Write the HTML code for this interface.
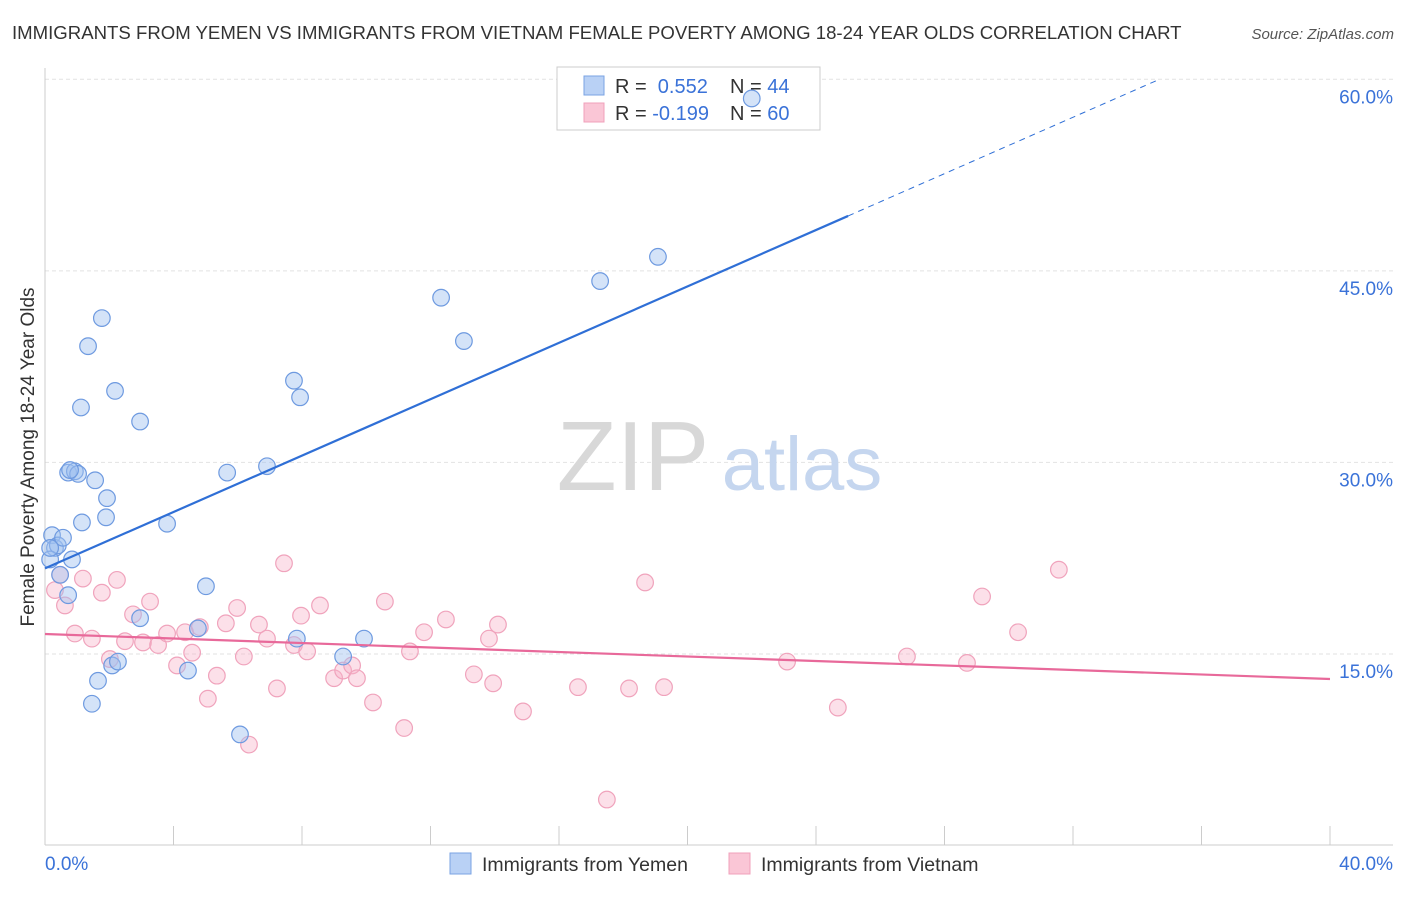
<!DOCTYPE html>
<html><head><meta charset="utf-8"><style>
body{margin:0;background:#fff;font-family:"Liberation Sans",sans-serif;}
svg text{font-family:"Liberation Sans",sans-serif;}
</style></head><body>
<svg id="chart" width="1406" height="892" xmlns="http://www.w3.org/2000/svg">
<text x="12" y="39" font-size="18.6" fill="#333">IMMIGRANTS FROM YEMEN VS IMMIGRANTS FROM VIETNAM FEMALE POVERTY AMONG 18-24 YEAR OLDS CORRELATION CHART</text>
<text x="1394" y="39" font-size="15" fill="#555" font-style="italic" text-anchor="end">Source: ZipAtlas.com</text>
<g id="grid"></g>
<g id="watermark">
<text x="633" y="490" font-size="98" fill="#d8d8d8" font-family="Liberation Serif" text-anchor="middle">ZIP</text>
<text x="802" y="490" font-size="76" fill="#c5d6ef" text-anchor="middle">atlas</text>
</g>
<g id="axes"></g>
<g>
<rect x="557" y="67" width="263" height="63" fill="#fff" stroke="#ccc"/>
<rect x="584" y="76" width="20" height="19" fill="#b9d1f5" stroke="#7aa3e3"/>
<rect x="584" y="103" width="20" height="19" fill="#fac6d6" stroke="#f0a0bb"/>
<text x="615" y="93" font-size="20" fill="#333">R = <tspan fill="#3a72d8">&#160;0.552</tspan><tspan x="730">N = </tspan><tspan fill="#3a72d8">44</tspan></text>
<text x="615" y="120" font-size="20" fill="#333">R = <tspan fill="#3a72d8">-0.199</tspan><tspan x="730">N = </tspan><tspan fill="#3a72d8">60</tspan></text>
</g>
<g id="pinkpts"></g>
<g id="bluepts"></g>
<g id="lines"></g>
<g>
<rect x="450" y="853" width="21" height="21" fill="#b9d1f5" stroke="#7aa3e3"/>
<text x="482" y="871" font-size="19.5" fill="#333">Immigrants from Yemen</text>
<rect x="729" y="853" width="21" height="21" fill="#fac6d6" stroke="#f0a0bb"/>
<text x="761" y="871" font-size="19.5" fill="#333">Immigrants from Vietnam</text>
</g>
</svg>
<script>
const yTicks=[15,30,45,60];
const yTickLabels=["15.0%","30.0%","45.0%","60.0%"];
const xTicks=[0,4,8,12,16,20,24,28,32,36,40];
const yemenX=[0.22,0.31,0.40,0.56,0.16,0.47,0.72,0.84,0.72,0.93,1.03,1.15,1.56,1.34,1.77,1.12,2.18,1.93,1.90,2.96,3.80,5.67,6.91,5.01,2.96,4.76,4.45,6.07,1.65,1.46,2.09,2.27,7.75,7.94,7.84,9.28,9.93,12.33,13.04,17.28,19.08,22.0,0.16,0.78];
const yemenY=[24.3,23.3,23.5,24.1,22.4,21.2,19.6,22.4,29.2,29.3,29.1,25.3,28.6,39.1,41.3,34.3,35.6,27.2,25.7,33.2,25.2,29.2,29.7,20.3,17.8,17.0,13.7,8.7,12.9,11.1,14.1,14.4,36.4,35.1,16.2,14.8,16.2,42.9,39.5,44.2,46.1,58.5,23.3,29.4];
const vietX=[0.31,0.47,0.62,0.93,1.18,1.46,1.77,2.24,2.02,2.49,2.74,3.05,3.27,3.52,3.80,4.11,4.58,4.36,4.82,5.07,5.35,5.63,5.98,6.19,6.35,6.66,6.91,7.22,7.44,7.75,7.97,8.16,8.56,9.00,9.28,9.56,9.71,10.21,10.58,11.18,11.36,11.80,12.48,13.35,13.82,13.95,14.10,14.88,16.59,17.49,18.18,18.68,19.27,23.10,24.68,26.83,28.70,29.17,30.29,31.56];
const vietY=[20.0,21.2,18.8,16.6,20.9,16.2,19.8,20.8,14.6,16.0,18.1,15.9,19.1,15.7,16.6,14.1,15.1,16.7,17.1,11.5,13.3,17.4,18.6,14.8,7.9,17.3,16.2,12.3,22.1,15.7,18.0,15.2,18.8,13.1,13.7,14.1,13.1,11.2,19.1,9.2,15.2,16.7,17.7,13.4,16.2,12.7,17.3,10.5,12.4,3.6,12.3,20.6,12.4,14.4,10.8,14.8,14.3,19.5,16.7,21.6];
const yemenTrend=[21.7,1.104];
const vietTrend=[16.56,-0.088];
const NS="http://www.w3.org/2000/svg";
function sx(v){return 45+v*32.125;}
function sy(v){return 845.5-v*12.77;}
function mk(tag,attrs,parent){const e=document.createElementNS(NS,tag);for(const k in attrs)e.setAttribute(k,attrs[k]);parent.appendChild(e);return e;}
const grid=document.getElementById('grid'),axes=document.getElementById('axes');
yTicks.forEach((t,i)=>{
 const l=mk('line',{x1:45,x2:1393,y1:sy(t),y2:sy(t),stroke:'#e2e2e2','stroke-dasharray':'4,3'},grid);
 
 
 const tx=mk('text',{x:1393,y:sy(t)+24,'font-size':19,fill:'#3a72d8','text-anchor':'end'},axes);
 tx.textContent=yTickLabels[i];
 
 
});
mk('line',{x1:45,x2:45,y1:68,y2:845,stroke:'#ccc'},axes);
mk('line',{x1:45,x2:1393,y1:845,y2:845,stroke:'#ccc'},axes);
xTicks.forEach(t=>{
 const l=mk('line',{x1:sx(t),x2:sx(t),y1:826,y2:845,stroke:'#ccc'},axes);
 
 
});
const x0=mk('text',{x:45,y:870,'font-size':19,fill:'#3a72d8'},axes);x0.textContent="0.0%";


const x1=mk('text',{x:1393,y:870,'font-size':19,fill:'#3a72d8','text-anchor':'end'},axes);x1.textContent="40.0%";


const yl=mk('text',{transform:'translate(34,457) rotate(-90)','font-size':19,fill:'#333','text-anchor':'middle'},axes);
yl.textContent="Female Poverty Among 18-24 Year Olds";


const pp=document.getElementById('pinkpts'),bp=document.getElementById('bluepts');
vietX.forEach((v,i)=>{
 const c=mk('circle',{cx:sx(v),cy:sy(vietY[i]),r:8.3,fill:'rgba(248,178,200,0.4)',stroke:'#f0a3bc','stroke-width':1.2},pp);
 
 
});
yemenX.forEach((v,i)=>{
 const c=mk('circle',{cx:sx(v),cy:sy(yemenY[i]),r:8.3,fill:'rgba(160,192,240,0.45)',stroke:'#6e9ae0','stroke-width':1.2},bp);
 
 
});
const ln=document.getElementById('lines');
const bEnd=25,bDash=(60-yemenTrend[0])/yemenTrend[1];
const b1=mk('line',{x1:sx(0),y1:sy(yemenTrend[0]),x2:sx(bEnd),y2:sy(yemenTrend[0]+yemenTrend[1]*bEnd),stroke:'#2f6fd6','stroke-width':2.2},ln);


const b2=mk('line',{x1:sx(bEnd),y1:sy(yemenTrend[0]+yemenTrend[1]*bEnd),x2:sx(bDash),y2:sy(60),stroke:'#2f6fd6','stroke-width':1,'stroke-dasharray':'6,5'},ln);


const p1=mk('line',{x1:sx(0),y1:sy(vietTrend[0]),x2:sx(40),y2:sy(vietTrend[0]+vietTrend[1]*40),stroke:'#e8699a','stroke-width':2.2},ln);


</script>
</body></html>
